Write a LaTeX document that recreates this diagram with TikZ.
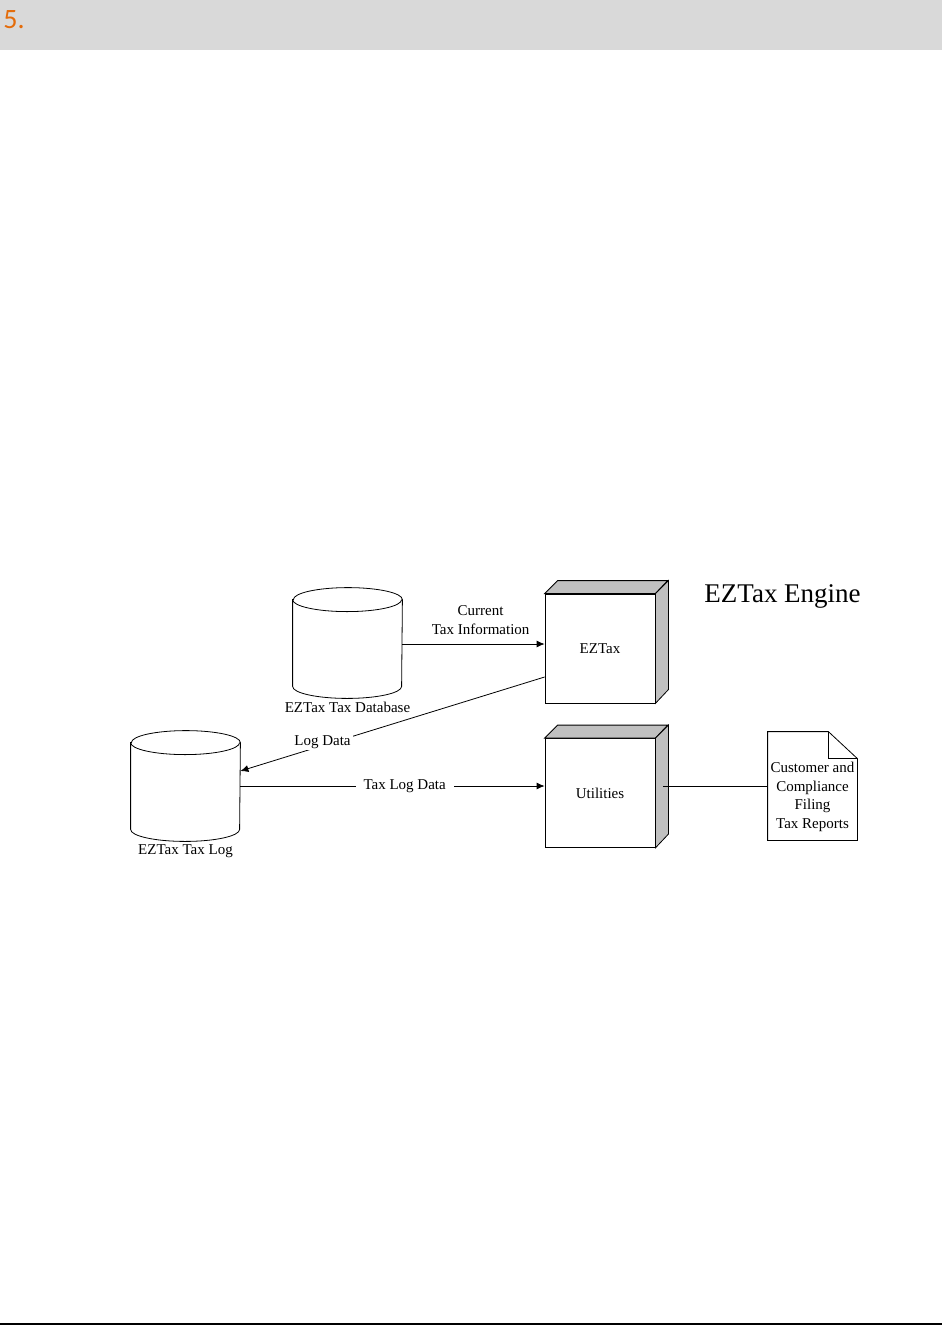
\documentclass[tikz,border=0pt]{standalone}
\usepackage{fontspec}
\setmainfont{Liberation Serif}
\newfontfamily\headfont{Carlito}
\usetikzlibrary{ arrows.meta,
                 calc,
                 positioning, % For easy node-relative placements
               }
\definecolor{headgray}{RGB}{217,217,217}
\definecolor{headorange}{RGB}{228,108,10}
\definecolor{sidegray}{RGB}{192,192,192}
\tikzstyle{flow} = [-{Latex[length=8pt, width=7pt]}]
\tikzstyle{store} = [rectangle, minimum width=109pt, minimum height=110pt, inner sep=0pt,
                     label distance=-2pt]
\tikzstyle{rim} = [x radius=54.5pt, y radius=12pt]
\tikzstyle{module} = [rectangle, draw=black, fill=white, minimum width=110pt, minimum height=109pt]
\tikzstyle{sheet} = [rectangle, minimum width=89pt, minimum height=108pt]
\tikzstyle{tag} = [fill=white, inner xsep=8pt, inner ysep=1pt]

\begin{document}
\begin{tikzpicture}[x=1pt, y=-1pt, line width=0.8pt,
                    every node/.style={font=\fontsize{15}{18.5}\selectfont}]
  \useasboundingbox (0,0) rectangle (942,1326);

  % heading bar
  \fill[headgray] (0,0) rectangle (942,50);
  \node (num) [anchor=base west, inner sep=0pt, text=headorange,
               font=\headfont\fontsize{28}{30}\selectfont] at (3,28) {5.};
  \draw[line width=2pt] (0,1324) -- (942,1324);

  \node (title) [anchor=base west, inner sep=0pt, font=\fontsize{27}{30}\selectfont]
        at (704,602) {EZTax Engine};

  % data stores
  \node (db) [store, label=below:{EZTax Tax Database}] at (347.5,643) {};
  \node (log) [store, label=below:{EZTax Tax Log}] at (185.5,786) {};
  \foreach \s in {db, log} {
    \filldraw[fill=white] ([yshift=-12pt]\s.north west) -- ([yshift=12pt]\s.south west)
      arc[rim, start angle=180, end angle=360] -- ([yshift=-12pt]\s.north east)
      arc[rim, start angle=0, end angle=180] -- cycle;
    \draw ([yshift=-12pt]\s.north west) arc[rim, start angle=180, end angle=360];
  }

  % engine modules
  \node (eztax) [module] at (600,648.5) {EZTax};
  \node (util) [module] at (600,793) {Utilities};
  \foreach \m in {eztax, util} {
    \filldraw[fill=sidegray] (\m.north west) -- ++(13,-13) -- ++(110,0) -- (\m.north east) -- cycle;
    \filldraw[fill=sidegray] (\m.north east) -- ++(13,-13) -- ++(0,109) -- (\m.south east) -- cycle;
  }

  % report
  \node (report) [sheet, label={[align=center, yshift=-11pt]center:Customer and\\Compliance\\Filing\\Tax Reports}]
        at (812.5,786) {};
  \draw (report.north west) -- ([xshift=-29pt]report.north east)
        -- ([yshift=-27pt]report.north east) -- (report.south east)
        -- (report.south west) -- cycle;
  \draw ([xshift=-29pt]report.north east) -- ([xshift=-29pt, yshift=-27pt]report.north east)
        -- ([yshift=-27pt]report.north east);

  % flows
  \draw[flow] ([yshift=-1pt]db.east) -- node[above, align=center, pos=0.55, yshift=6pt] {Current\\Tax Information}
        ([yshift=-1pt]db.east -| eztax.west);
  \draw[flow] ([yshift=-28.5pt]eztax.west) -- node[tag, pos=0.73, yshift=3pt, inner xsep=2pt] {Log Data}
        ([yshift=15pt]log.east);
  \draw[flow] (log.east) -- node[tag, pos=0.54] {Tax Log Data} (log.east -| util.west);
  \draw ([xshift=8pt, yshift=6.5pt]util.east) -- ([yshift=6.5pt]util.east -| report.west);

\end{tikzpicture}
\end{document}
